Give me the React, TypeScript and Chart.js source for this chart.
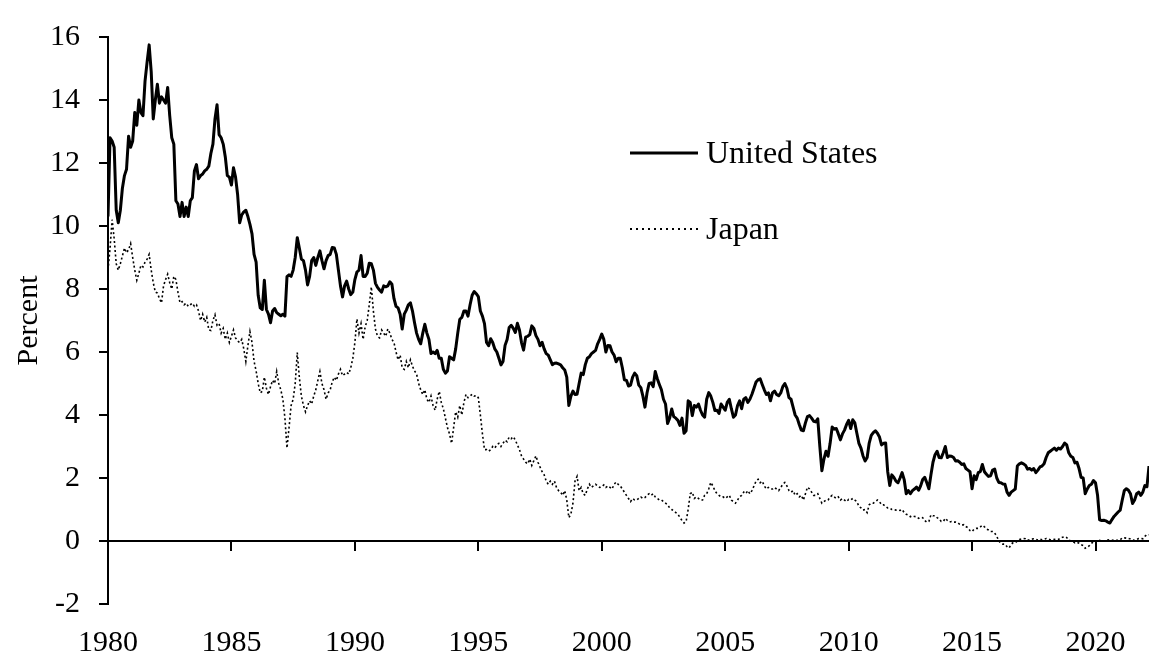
import React, { useEffect, useRef } from 'react';
import { Chart, registerables } from 'chart.js';

Chart.register(...registerables);

// Monthly observations starting January 1980
const START_YEAR = 1980;
const END_YEAR = 2022 + 2 / 12;

const tickYears = [1980, 1985, 1990, 1995, 2000, 2005, 2010, 2015, 2020];
const yTickValues = [-2, 0, 2, 4, 6, 8, 10, 12, 14, 16];

const seriesLabels = ['United States', 'Japan'];

const us1980s = [
  10.3, 12.8, 12.7, 12.5, 10.5, 10.1, 10.5, 11.2, 11.6, 11.8, 12.85, 12.5,
  12.7, 13.6, 13.2, 14.0, 13.6, 13.5, 14.6, 15.2, 15.75, 14.9, 13.4, 14.0,
  14.5, 13.9, 14.1, 14.0, 13.9, 14.4, 13.5, 12.8, 12.6, 10.8, 10.7, 10.3,
  10.75, 10.3, 10.6, 10.3, 10.8, 10.9, 11.75, 11.95, 11.5, 11.6, 11.65, 11.75,
  11.8, 11.9, 12.3, 12.6, 13.4, 13.85, 12.9, 12.8, 12.6, 12.2, 11.6, 11.55,
  11.3, 11.85, 11.55, 11.0, 10.1, 10.35, 10.45, 10.5, 10.3, 10.05, 9.75, 9.1,
  8.85, 7.8, 7.4, 7.35, 8.28, 7.35, 7.2, 6.93, 7.3, 7.38, 7.25, 7.2,
  7.15, 7.2, 7.14, 8.39, 8.45, 8.4, 8.6, 9.0, 9.63, 9.3, 8.95, 8.9,
  8.6, 8.13, 8.4, 8.9, 9.0, 8.75, 9.0, 9.21, 8.9, 8.64, 8.9, 9.06,
  9.1, 9.32, 9.3, 9.1, 8.6, 8.1, 7.75, 8.1, 8.25, 8.0, 7.82, 7.9,
];
const us1990s = [
  8.3, 8.54, 8.6, 9.06, 8.4, 8.4, 8.5, 8.82, 8.8, 8.6, 8.18, 8.05,
  7.97, 7.9, 8.1, 8.07, 8.1, 8.23, 8.15, 7.7, 7.45, 7.4, 7.2, 6.73,
  7.2, 7.33, 7.5, 7.56, 7.3, 6.93, 6.6, 6.4, 6.26, 6.6, 6.88, 6.6,
  6.4, 5.95, 6.0, 5.95, 6.05, 5.8, 5.8, 5.45, 5.33, 5.4, 5.85, 5.8,
  5.75, 6.1, 6.6, 7.04, 7.1, 7.3, 7.3, 7.14, 7.5, 7.8, 7.92, 7.85,
  7.76, 7.3, 7.14, 6.9, 6.3, 6.2, 6.42, 6.3, 6.1, 6.0, 5.8, 5.59,
  5.7, 6.21, 6.4, 6.78, 6.85, 6.75, 6.62, 6.91, 6.7, 6.3, 6.06, 6.47,
  6.5, 6.55, 6.83, 6.75, 6.52, 6.4, 6.2, 6.31, 6.1, 5.95, 5.9, 5.75,
  5.6, 5.64, 5.65, 5.62, 5.59, 5.5, 5.43, 5.2, 4.3, 4.6, 4.76, 4.65,
  4.66, 5.0, 5.33, 5.28, 5.6, 5.8, 5.85, 5.95, 6.0, 6.05, 6.26, 6.4,
];
const us2000s = [
  6.57, 6.4, 6.0, 6.21, 6.2, 6.0, 5.9, 5.69, 5.8, 5.8, 5.5, 5.12,
  5.1, 4.92, 4.95, 5.2, 5.33, 5.25, 4.95, 4.87, 4.6, 4.25, 4.7, 5.0,
  5.02, 4.9, 5.38, 5.15, 4.97, 4.8, 4.5, 4.35, 3.73, 3.9, 4.19, 3.95,
  3.9, 3.83, 3.67, 3.9, 3.42, 3.5, 4.45, 4.4, 3.98, 4.3, 4.25, 4.35,
  4.15, 4.0, 3.93, 4.5, 4.71, 4.6, 4.4, 4.14, 4.15, 4.05, 4.35, 4.25,
  4.15, 4.4, 4.5, 4.2, 3.93, 4.0, 4.3, 4.45, 4.2, 4.5, 4.55, 4.4,
  4.5, 4.66, 4.85, 5.05, 5.12, 5.15, 4.97, 4.8, 4.65, 4.7, 4.45, 4.7,
  4.76, 4.65, 4.61, 4.7, 4.9, 5.0, 4.85, 4.55, 4.5, 4.25, 4.0, 3.9,
  3.7, 3.52, 3.5, 3.75, 3.95, 3.98, 3.9, 3.8, 3.78, 3.88, 3.0, 2.23,
  2.6, 2.85, 2.69, 3.1, 3.62, 3.55, 3.57, 3.4, 3.21, 3.4, 3.52, 3.7,
];
const us2010s = [
  3.83, 3.57, 3.85, 3.75, 3.42, 3.1, 2.95, 2.7, 2.54, 2.65, 3.11, 3.35,
  3.44, 3.5, 3.42, 3.3, 3.05, 3.1, 3.11, 2.2, 1.76, 2.1, 2.02, 1.9,
  1.85, 2.0, 2.17, 1.95, 1.5, 1.6, 1.5, 1.6, 1.65, 1.71, 1.61, 1.75,
  1.95, 2.02, 1.85, 1.66, 2.1, 2.5, 2.74, 2.85, 2.65, 2.64, 2.8, 3.0,
  2.65, 2.7, 2.69, 2.65, 2.54, 2.55, 2.5, 2.43, 2.45, 2.3, 2.25, 2.2,
  1.66, 2.07, 1.95, 2.17, 2.2, 2.43, 2.2, 2.12, 2.05, 2.07, 2.25, 2.28,
  2.0, 1.86, 1.85, 1.81, 1.8, 1.55, 1.45, 1.55, 1.6, 1.65, 2.38, 2.45,
  2.48, 2.45, 2.4, 2.28, 2.3, 2.25, 2.3, 2.17, 2.25, 2.35, 2.38, 2.45,
  2.65, 2.8, 2.85, 2.9, 2.95, 2.88, 2.95, 2.92, 3.0, 3.11, 3.05, 2.8,
  2.69, 2.65, 2.48, 2.5, 2.3, 2.02, 2.0, 1.5, 1.65, 1.76, 1.8, 1.92,
];
const us2020s = [
  1.85, 1.45, 0.67, 0.65, 0.66, 0.64, 0.6, 0.57, 0.68, 0.78, 0.85, 0.92,
  0.98, 1.3, 1.6, 1.66, 1.61, 1.5, 1.19, 1.3, 1.5, 1.55, 1.45, 1.55,
  1.76, 1.72, 2.38,
];

const jp1980s = [
  8.6, 9.3, 10.2, 9.6, 8.8, 8.6, 8.8, 9.05, 9.3, 9.15, 9.25, 9.44,
  9.0, 8.6, 8.28, 8.5, 8.75, 8.7, 8.85, 8.95, 9.1, 8.6, 8.2, 7.9,
  7.87, 7.7, 7.56, 8.1, 8.3, 8.47, 8.2, 8.0, 8.4, 8.3, 7.9, 7.56,
  7.6, 7.5, 7.55, 7.45, 7.5, 7.55, 7.45, 7.5, 7.3, 7.0, 7.2, 6.95,
  7.1, 6.7, 6.68, 7.0, 7.18, 6.85, 6.9, 6.6, 6.75, 6.4, 6.6, 6.3,
  6.5, 6.7, 6.45, 6.35, 6.3, 6.4, 6.1, 5.7, 6.2, 6.65, 6.3, 5.7,
  5.4, 5.0, 4.7, 4.75, 5.2, 4.85, 4.65, 4.9, 5.1, 5.0, 5.38, 5.0,
  4.8, 4.5, 3.9, 2.95, 3.6, 4.3, 4.5, 5.0, 5.98, 5.2, 4.6, 4.3,
  4.1, 4.3, 4.45, 4.35, 4.6, 4.8, 5.1, 5.38, 5.0, 4.8, 4.5, 4.7,
  4.8, 5.05, 5.2, 5.1, 5.3, 5.45, 5.25, 5.3, 5.35, 5.3, 5.5, 5.8,
];
const jp1990s = [
  6.3, 7.05, 6.6, 6.9, 6.4, 6.8, 7.0, 7.5, 8.07, 7.3, 6.73, 6.5,
  6.45, 6.7, 6.6, 6.5, 6.73, 6.6, 6.4, 6.3, 6.0, 5.75, 5.9, 5.5,
  5.45, 5.7, 5.5, 5.75, 5.55, 5.4, 5.3, 5.0, 4.8, 4.65, 4.8, 4.5,
  4.4, 4.6, 4.3, 4.15, 4.5, 4.75, 4.4, 4.2, 3.9, 3.6, 3.4, 3.1,
  3.6, 4.1, 3.93, 4.3, 4.0, 4.4, 4.65, 4.55, 4.6, 4.66, 4.6, 4.62,
  4.55, 4.0, 3.4, 2.9, 2.9, 2.85, 2.9, 3.0, 2.95, 3.05, 3.1, 3.0,
  3.1, 3.2, 3.15, 3.3, 3.25, 3.31, 3.2, 3.05, 2.9, 2.7, 2.6, 2.5,
  2.45, 2.6, 2.4, 2.55, 2.7, 2.5, 2.35, 2.2, 2.1, 1.9, 1.8, 1.9,
  1.8, 1.9, 1.7, 1.6, 1.55, 1.45, 1.6, 1.3, 0.74, 0.85, 1.2, 1.9,
  2.05, 1.6, 1.7, 1.5, 1.45, 1.65, 1.8, 1.7, 1.75, 1.8, 1.75, 1.7,
];
const jp2000s = [
  1.72, 1.78, 1.7, 1.75, 1.7, 1.65, 1.8, 1.87, 1.8, 1.75, 1.65, 1.55,
  1.45, 1.35, 1.25, 1.35, 1.3, 1.3, 1.35, 1.4, 1.35, 1.38, 1.45, 1.5,
  1.45, 1.5, 1.4, 1.35, 1.3, 1.3, 1.25, 1.2, 1.15, 1.05, 1.0, 0.95,
  0.9, 0.85, 0.75, 0.65, 0.57, 0.62, 1.0, 1.5, 1.55, 1.35, 1.4, 1.35,
  1.3, 1.3, 1.45, 1.5, 1.65, 1.86, 1.75, 1.6, 1.5, 1.45, 1.4, 1.4,
  1.35, 1.4, 1.45, 1.3, 1.25, 1.2, 1.3, 1.4, 1.45, 1.55, 1.5, 1.6,
  1.5, 1.6, 1.75, 1.9, 1.96, 1.85, 1.9, 1.75, 1.65, 1.7, 1.65, 1.65,
  1.7, 1.65, 1.6, 1.7, 1.8, 1.86, 1.75, 1.6, 1.55, 1.6, 1.45, 1.5,
  1.4, 1.45, 1.3, 1.5, 1.71, 1.65, 1.55, 1.45, 1.45, 1.5, 1.35, 1.2,
  1.25, 1.3, 1.3, 1.4, 1.45, 1.4, 1.35, 1.4, 1.3, 1.35, 1.3, 1.25,
];
const jp2010s = [
  1.32, 1.3, 1.35, 1.3, 1.25, 1.1, 1.05, 0.98, 1.0, 0.9, 1.15, 1.2,
  1.2, 1.25, 1.3, 1.25, 1.15, 1.15, 1.1, 1.05, 1.05, 1.0, 1.0, 0.98,
  0.98, 0.97, 1.0, 0.9, 0.85, 0.82, 0.77, 0.8, 0.78, 0.77, 0.72, 0.75,
  0.74, 0.65, 0.6, 0.62, 0.83, 0.8, 0.8, 0.74, 0.7, 0.62, 0.62, 0.72,
  0.65, 0.6, 0.62, 0.6, 0.6, 0.58, 0.53, 0.5, 0.52, 0.46, 0.42, 0.33,
  0.3, 0.38, 0.4, 0.4, 0.45, 0.5, 0.45, 0.38, 0.35, 0.3, 0.3, 0.25,
  0.15, 0.0, -0.08, -0.1, -0.1, -0.18, -0.22, -0.1, -0.05, -0.05, 0.0, 0.05,
  0.06, 0.08, 0.07, 0.02, 0.04, 0.06, 0.07, 0.05, 0.03, 0.06, 0.04, 0.05,
  0.08, 0.06, 0.04, 0.04, 0.05, 0.04, 0.05, 0.1, 0.12, 0.14, 0.11, 0.03,
  0.0, -0.02, -0.06, -0.04, -0.07, -0.12, -0.14, -0.23, -0.2, -0.15, -0.08, -0.02,
];
const jp2020s = [
  -0.01, -0.05, 0.02, 0.0, 0.0, 0.02, 0.03, 0.04, 0.02, 0.03, 0.02, 0.02,
  0.04, 0.1, 0.1, 0.09, 0.08, 0.06, 0.03, 0.02, 0.05, 0.08, 0.08, 0.07,
  0.15, 0.2, 0.2,
];

const usYields = [...us1980s, ...us1990s, ...us2000s, ...us2010s, ...us2020s];
const jpYields = [...jp1980s, ...jp1990s, ...jp2000s, ...jp2010s, ...jp2020s];

const FONT_FAMILY = '"Liberation Serif", "Times New Roman", Times, serif';
const axisFont = { family: FONT_FAMILY, size: 30 };

const toPoints = (values: number[]) =>
  values.map((v, i) => ({ x: START_YEAR + i / 12, y: v }));

const legendPlugin = {
  id: 'insetLegend',
  afterDraw(chart: any) {
    const ctx = chart.ctx;
    const x0 = 630;
    const lineLen = 68;
    const rows = [153, 229];
    ctx.save();
    chart.data.datasets.forEach((ds: any, i: number) => {
      const y = rows[i];
      ctx.beginPath();
      ctx.strokeStyle = '#000';
      ctx.lineWidth = ds.legendLineWidth;
      ctx.setLineDash(ds.legendDash);
      ctx.moveTo(x0, y);
      ctx.lineTo(x0 + lineLen, y);
      ctx.stroke();
      ctx.setLineDash([]);
      ctx.fillStyle = '#000';
      ctx.font = `32px ${FONT_FAMILY}`;
      ctx.textAlign = 'left';
      ctx.textBaseline = 'middle';
      ctx.fillText(ds.label, x0 + lineLen + 8, y + 2);
    });
    ctx.restore();
  },
};

export default function App() {
  const canvasRef = useRef<HTMLCanvasElement>(null);

  useEffect(() => {
    if (!canvasRef.current) return;
    const setTicks = (values: number[]) => (scale: any) => {
      scale.ticks = values.map((v) => ({ value: v }));
    };
    const chart = new Chart(canvasRef.current, {
      type: 'line',
      data: {
        datasets: [
          {
            label: seriesLabels[0],
            data: toPoints(usYields),
            borderColor: '#000',
            borderWidth: 3,
            borderJoinStyle: 'round',
            pointRadius: 0,
            tension: 0,
            xAxisID: 'x',
            yAxisID: 'y',
            legendLineWidth: 3,
            legendDash: [],
          } as any,
          {
            label: seriesLabels[1],
            data: toPoints(jpYields),
            borderColor: '#000',
            borderWidth: 1.6,
            borderDash: [2, 2.5],
            pointRadius: 0,
            tension: 0,
            xAxisID: 'x',
            yAxisID: 'y',
            legendLineWidth: 2,
            legendDash: [2, 4],
          } as any,
        ],
      },
      options: {
        animation: false,
        responsive: true,
        maintainAspectRatio: false,
        events: [],
        layout: { padding: { top: 25, left: 0, right: 0, bottom: 0 } },
        plugins: {
          legend: { display: false },
          tooltip: { enabled: false },
        },
        scales: {
          x: {
            type: 'linear',
            position: 'bottom',
            min: START_YEAR,
            max: END_YEAR,
            afterBuildTicks: setTicks(tickYears),
            afterFit: (s: any) => {
              s.height = 51;
            },
            grid: { display: false, drawTicks: false },
            border: { display: false },
            ticks: {
              font: axisFont,
              color: '#000',
              padding: 21,
              maxRotation: 0,
              autoSkip: false,
              callback: (v: any) => String(v),
            },
          },
          xZero: {
            type: 'linear',
            axis: 'x',
            position: { y: 0 },
            min: START_YEAR,
            max: END_YEAR,
            afterBuildTicks: setTicks(tickYears),
            grid: {
              display: true,
              drawOnChartArea: false,
              drawTicks: true,
              tickLength: 9,
              color: '#000',
              lineWidth: 2,
            },
            border: { display: true, color: '#000', width: 2 },
            ticks: { callback: () => '', padding: 0, autoSkip: false },
          },
          y: {
            type: 'linear',
            position: 'left',
            min: -2,
            max: 16,
            afterBuildTicks: setTicks(yTickValues),
            afterFit: (s: any) => {
              s.width = 108;
            },
            grid: {
              display: true,
              drawOnChartArea: false,
              drawTicks: true,
              tickLength: 9,
              color: '#000',
              lineWidth: 2,
            },
            border: { display: true, color: '#000', width: 2 },
            ticks: {
              font: axisFont,
              color: '#000',
              padding: 19,
              autoSkip: false,
              callback: (v: any) => String(v),
            },
            title: {
              display: true,
              text: 'Percent',
              font: axisFont,
              color: '#000',
              padding: { top: 11, bottom: 0 },
            },
          },
        },
      } as any,
      plugins: [legendPlugin],
    });
    return () => chart.destroy();
  }, []);

  return (
    <div
      style={{
        position: 'fixed',
        left: 0,
        top: 0,
        width: 1149,
        height: 655,
        background: '#fff',
      }}
    >
      <canvas ref={canvasRef} />
    </div>
  );
}
